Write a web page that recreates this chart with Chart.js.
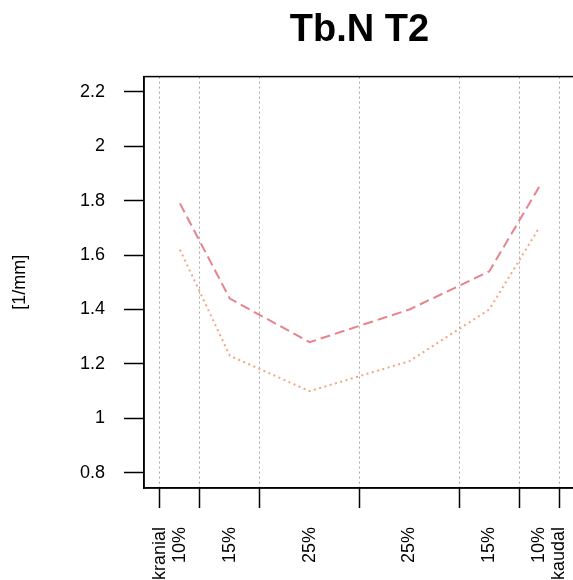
<!DOCTYPE html>
<html>
<head>
<title>Tb.N T2</title>
<script src="https://cdn.jsdelivr.net/npm/chart.js@4.4.1/dist/chart.umd.min.js"></script>
<style>
html, body {
margin: 0;
padding: 0;
overflow: hidden;
background: #ffffff;
}
#wrap {
width: 576px;
height: 580px;
}
</style>
</head>
<body>
<div id="wrap"><canvas id="plot"></canvas></div>
<script>
// section boundaries along the spine (cumulative %), and where each section's value sits
var breaks = [0, 10, 25, 50, 75, 90, 100];
var sectionMid = [5, 17.5, 37.5, 62.5, 82.5, 95];
// axis text under the plot
var labelPos = [0, 5, 17.5, 37.5, 62.5, 82.5, 95, 100];
var xLabels = ['kranial', '10%', '15%', '25%', '25%', '15%', '10%', 'kaudal'];
var yTicks = [0.8, 1.0, 1.2, 1.4, 1.6, 1.8, 2.0, 2.2];
// Tb.N per section
var dashedVals = [1.79, 1.44, 1.28, 1.40, 1.54, 1.85];
var dottedVals = [1.62, 1.23, 1.10, 1.21, 1.40, 1.70];
var titleText = 'Tb.N T2';
var yTitle = '[1/mm]';

Chart.defaults.font.family = '"Liberation Sans", Arial, sans-serif';
Chart.defaults.color = '#000000';

function pts(vals) {
  return vals.map(function (v, i) { return { x: sectionMid[i], y: v }; });
}

// R-style 4% extension of the axis ranges
var xPad = (breaks[breaks.length - 1] - breaks[0]) * 0.04;
var yPad = (yTicks[yTicks.length - 1] - yTicks[0]) * 0.04;

// no extra room for end labels, keep the plot box where it is
function noPad(s) {
  s.paddingLeft = 0;
  s.paddingRight = 0;
  s.paddingTop = 0;
  s.paddingBottom = 0;
}

// frame round the plot region
var boxPlugin = {
  id: 'box',
  afterDraw: function (chart) {
    var a = chart.chartArea, ctx = chart.ctx;
    ctx.save();
    ctx.strokeStyle = '#000000';
    ctx.lineWidth = 1.5;
    ctx.strokeRect(a.left, a.top, a.right - a.left, a.bottom - a.top);
    ctx.restore();
  }
};

var chart = new Chart(document.getElementById('plot').getContext('2d'), {
  type: 'line',
  data: {
    datasets: [
      {
        data: pts(dashedVals),
        borderColor: '#E8838B',
        borderWidth: 2,
        borderDash: [10, 5],
        pointRadius: 0,
        tension: 0,
        fill: false
      },
      {
        data: pts(dottedVals),
        borderColor: '#F4A582',
        borderWidth: 2,
        borderDash: [2, 3.5],
        pointRadius: 0,
        tension: 0,
        fill: false
      }
    ]
  },
  options: {
    responsive: true,
    maintainAspectRatio: false,
    animation: false,
    layout: { autoPadding: false, padding: { left: 0, right: 1, top: 0, bottom: 0 } },
    plugins: {
      legend: { display: false },
      tooltip: { enabled: false },
      title: {
        display: true,
        text: titleText,
        fullSize: false,
        color: '#000000',
        font: { size: 38, weight: 'bold' },
        padding: { top: 8, bottom: 23 }
      }
    },
    scales: {
      x: {
        type: 'linear',
        position: 'bottom',
        weight: 0,
        min: breaks[0] - xPad,
        max: breaks[breaks.length - 1] + xPad,
        afterBuildTicks: function (s) { s.ticks = breaks.map(function (v) { return { value: v }; }); },
        afterFit: function (s) { s.height = 20; noPad(s); },
        ticks: { display: false },
        grid: {
          color: '#A8A8A8',
          lineWidth: 1,
          drawTicks: true,
          tickLength: 20,
          tickColor: '#000000',
          tickWidth: 1.5
        },
        border: { display: true, color: '#000000', width: 1.5, dash: [2, 3] }
      },
      x2: {
        type: 'linear',
        position: 'bottom',
        weight: 1,
        min: breaks[0] - xPad,
        max: breaks[breaks.length - 1] + xPad,
        afterBuildTicks: function (s) { s.ticks = labelPos.map(function (v) { return { value: v }; }); },
        afterFit: function (s) { s.height = 72; noPad(s); },
        grid: { display: false, drawTicks: false },
        border: { display: false },
        ticks: {
          autoSkip: false,
          minRotation: 90,
          maxRotation: 90,
          padding: 19,
          color: '#000000',
          font: { size: 18 },
          callback: function (v, i) { return xLabels[i]; }
        }
      },
      y: {
        type: 'linear',
        min: yTicks[0] - yPad,
        max: yTicks[yTicks.length - 1] + yPad,
        afterBuildTicks: function (s) { s.ticks = yTicks.map(function (v) { return { value: v }; }); },
        afterFit: function (s) { s.width = 144; noPad(s); },
        ticks: {
          padding: 19,
          color: '#000000',
          font: { size: 18 },
          callback: function (v) { return String(Math.round(v * 10) / 10); }
        },
        grid: {
          drawOnChartArea: false,
          drawTicks: true,
          tickLength: 20,
          tickColor: '#000000',
          tickWidth: 1.5
        },
        border: { display: true, color: '#000000', width: 1.5 },
        title: {
          display: true,
          text: yTitle,
          color: '#000000',
          font: { size: 18 },
          padding: { top: 9, bottom: 0 }
        }
      }
    }
  },
  plugins: [boxPlugin]
});
</script>
</body>
</html>
